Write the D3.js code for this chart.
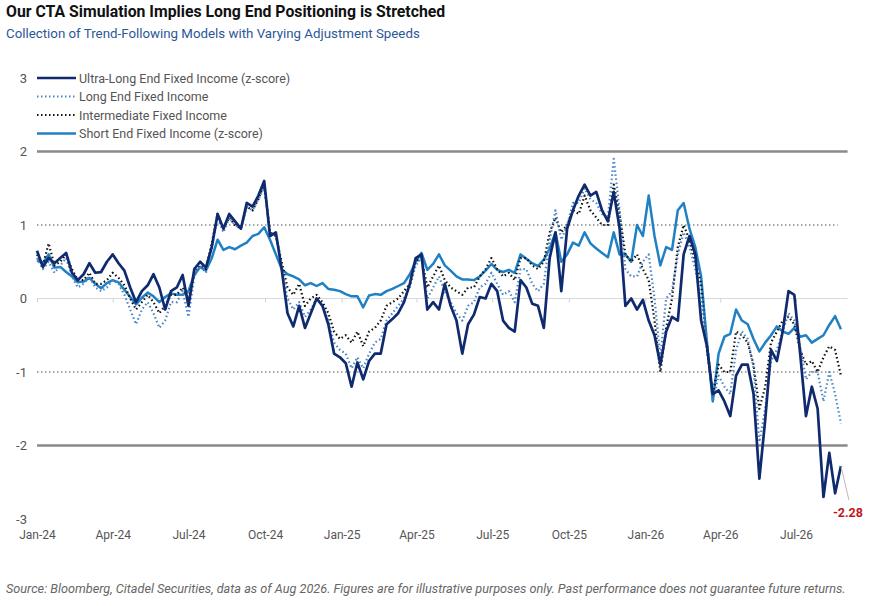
<!DOCTYPE html>
<html>
<head>
<meta charset="utf-8">
<script src="https://cdn.jsdelivr.net/npm/d3@7"></script>
<style>
  body { margin: 0; background: #fff; }
  svg { display: block; font-family: Roboto, "Noto Sans", sans-serif; }
</style>
</head>
<body>
<svg id="chart" width="883" height="606"></svg>
<script>
// weekly observations starting Mon 1 Jan 2024
const startDate = Date.UTC(2024, 0, 1)

const seriesNames = [
  'Ultra-Long End Fixed Income (z-score)',
  'Long End Fixed Income',
  'Intermediate Fixed Income',
  'Short End Fixed Income (z-score)'
]

const ultraLong = [
  0.65, 0.43, 0.55, 0.48, 0.55, 0.62, 0.35, 0.25, 0.33, 0.48,
  0.35, 0.36, 0.5, 0.6, 0.48, 0.38, 0.15, -0.05, 0.1, 0.18,
  0.33, 0.15, -0.15, 0.1, 0.15, 0.32, -0.1, 0.4, 0.5, 0.42,
  0.7, 1.15, 0.95, 1.15, 1.05, 0.95, 1.3, 1.25, 1.4, 1.6,
  0.85, 0.9, 0.4, -0.2, -0.38, -0.1, -0.4, -0.2, 0.0, -0.1,
  -0.35, -0.75, -0.8, -0.88, -1.2, -0.87, -1.1, -0.85, -0.75, -0.75,
  -0.35, -0.28, -0.2, -0.05, 0.2, 0.55, 0.6, -0.15, -0.05, -0.15,
  0.2, -0.1, -0.3, -0.75, -0.35, -0.22, 0.02, 0.0, 0.2, 0.1,
  -0.3, -0.4, -0.45, 0.25, 0.15, -0.07, -0.1, -0.4, 0.55, 0.9,
  0.1, 0.95, 1.2, 1.4, 1.55, 1.4, 1.45, 1.2, 1.05, 1.45,
  0.96, -0.1, 0.0, -0.15, -0.02, -0.3, -0.5, -0.9, -0.45, -0.25,
  -0.3, 0.6, 0.85, 0.6, -0.3, -0.65, -1.3, -1.25, -1.4, -1.6,
  -1.05, -0.9, -0.9, -1.3, -2.45, -1.65, -0.7, -0.85, -0.45, 0.1,
  0.05, -0.75, -1.6, -1.2, -1.5, -2.7, -2.1, -2.65, -2.28
]

const longEnd = [
  0.55, 0.4, 0.5, 0.35, 0.45, 0.55, 0.3, 0.15, 0.2, 0.3,
  0.15, 0.1, 0.15, 0.25, 0.2, 0.05, -0.15, -0.35, -0.15, -0.05,
  -0.2, -0.4, -0.3, -0.05, -0.05, 0.1, -0.25, 0.3, 0.45, 0.35,
  0.7, 1.1, 0.9, 1.1, 1.0, 0.95, 1.25, 1.2, 1.35, 1.5,
  0.9, 0.85, 0.45, 0.0, -0.15, -0.05, -0.25, -0.15, 0.0, -0.1,
  -0.3, -0.6, -0.7, -0.75, -0.95, -0.8, -0.95, -0.75, -0.6, -0.55,
  -0.3, -0.2, -0.1, 0.0, 0.15, 0.45, 0.55, 0.0, 0.15, 0.3,
  0.1, -0.05, -0.2, -0.3, -0.1, -0.05, 0.15, 0.2, 0.35, 0.2,
  0.05, 0.1, -0.05, 0.4, 0.4, 0.2, 0.1, 0.2, 0.8, 1.2,
  0.8, 1.0, 1.3, 1.3, 1.5, 1.35, 1.3, 1.15, 1.1, 1.9,
  1.2, 0.4, 0.3, 0.3, 0.5, 0.6, 0.0, -0.8, 0.0, 0.1,
  0.6, 0.9, 0.7, 0.4, 0.0, -0.55, -1.4, -1.05, -1.2, -1.3,
  -0.7, -0.45, -0.55, -0.95, -1.95, -1.5, -0.85, -0.7, -0.45, -0.2,
  -0.3, -0.65, -1.1, -1.0, -1.0, -1.4, -1.0, -1.3, -1.7
]

const intermediate = [
  0.6, 0.45, 0.75, 0.45, 0.5, 0.6, 0.4, 0.25, 0.25, 0.35,
  0.2, 0.2, 0.25, 0.35, 0.28, 0.18, 0.0, -0.15, -0.05, 0.05,
  -0.05, -0.2, -0.1, 0.05, 0.05, 0.15, 0.0, 0.35, 0.45, 0.4,
  0.75, 1.15, 0.95, 1.1, 1.0, 0.95, 1.25, 1.2, 1.35, 1.55,
  0.9, 0.85, 0.5, 0.15, 0.05, 0.2, -0.1, 0.0, 0.05, -0.05,
  -0.2, -0.45, -0.55, -0.5, -0.6, -0.45, -0.65, -0.45, -0.4, -0.3,
  -0.1, -0.05, 0.0, 0.1, 0.2, 0.5, 0.55, 0.15, 0.3, 0.45,
  0.25, 0.15, 0.1, 0.05, 0.15, 0.15, 0.3, 0.4, 0.55, 0.4,
  0.3, 0.35, 0.25, 0.55, 0.55, 0.45, 0.4, 0.5, 0.9, 1.1,
  0.9, 1.0, 1.2, 1.15, 1.4, 1.2, 1.1, 1.0, 1.0, 1.55,
  1.15, 0.6, 0.5, 0.6, 0.4, 0.25, -0.3, -1.0, -0.4, 0.0,
  0.7, 1.0, 0.8, 0.5, 0.2, -0.7, -1.3, -0.9, -1.0, -1.0,
  -0.45, -0.5, -0.6, -0.9, -1.5, -1.2, -0.6, -0.45, -0.3, -0.25,
  -0.35, -0.7, -0.9, -0.85, -1.0, -0.8, -0.65, -0.7, -1.05
]

const shortEnd = [
  0.52, 0.48, 0.6, 0.42, 0.43, 0.36, 0.3, 0.22, 0.23, 0.28,
  0.2, 0.14, 0.21, 0.25, 0.22, 0.12, 0.02, -0.08, 0.01, 0.08,
  0.03, -0.05, 0.02, 0.07, 0.05, 0.05, 0.1, 0.32, 0.43, 0.38,
  0.55, 0.8, 0.66, 0.7, 0.67, 0.72, 0.76, 0.85, 0.88, 0.97,
  0.8, 0.6, 0.4, 0.33, 0.3, 0.26, 0.18, 0.21, 0.17, 0.21,
  0.13, 0.12, 0.1, 0.06, 0.03, 0.03, -0.12, 0.04, 0.06, 0.05,
  0.1, 0.13, 0.17, 0.21, 0.33, 0.5, 0.62, 0.39, 0.47, 0.6,
  0.45, 0.38, 0.3, 0.26, 0.26, 0.25, 0.3, 0.38, 0.47, 0.39,
  0.36, 0.39, 0.35, 0.6, 0.54, 0.48, 0.44, 0.53, 0.68, 0.9,
  0.5, 0.6, 0.76, 0.72, 0.9, 0.75, 0.68, 0.62, 0.56, 0.9,
  0.6, 0.6, 0.5, 1.0, 0.85, 1.4, 0.85, 0.45, 0.7, 0.66,
  1.2, 1.3, 0.95, 0.7, 0.3, -0.6, -1.4, -0.75, -0.52, -0.48,
  -0.15, -0.3, -0.35, -0.55, -0.72, -0.6, -0.5, -0.38, -0.45, -0.48,
  -0.4, -0.52, -0.5, -0.6, -0.55, -0.5, -0.36, -0.24, -0.42
]

const yTicks = [-3, -2, -1, 0, 1, 2, 3]
const xTickDates = [
  '2024-01-01', '2024-04-01', '2024-07-01', '2024-10-01',
  '2025-01-01', '2025-04-01', '2025-07-01', '2025-10-01',
  '2026-01-01', '2026-04-01', '2026-07-01'
]

const svg = d3.select('#chart')

const x = d3.scaleUtc()
  .domain([new Date('2024-01-01'), new Date('2026-07-01')])
  .range([37, 796])
const y = d3.scaleLinear().domain([-3, 3]).range([519, 78])
const gridEnd = new Date(Date.UTC(2026, 8, 1))

const dateAt = i => new Date(startDate + i * 7 * 864e5)

// titles
svg.append('text').attr('x', 6).attr('y', 17)
  .attr('font-size', 15.8).attr('font-weight', 700).attr('fill', '#111')
  .text('Our CTA Simulation Implies Long End Positioning is Stretched')
svg.append('text').attr('x', 6).attr('y', 38)
  .attr('font-size', 13.3).attr('fill', '#2b5797')
  .text('Collection of Trend-Following Models with Varying Adjustment Speeds')

// gridlines
const grid = svg.append('g')
grid.append('line')
  .attr('x1', x(x.domain()[0])).attr('x2', x(gridEnd))
  .attr('y1', y(0)).attr('y2', y(0))
  .attr('stroke', '#d9d9d9').attr('stroke-width', 1.2)
;[2, -2].forEach(v => {
  grid.append('line')
    .attr('x1', x(x.domain()[0])).attr('x2', x(gridEnd))
    .attr('y1', y(v)).attr('y2', y(v))
    .attr('stroke', '#8a8a8a').attr('stroke-width', 2.5)
})
;[1, -1].forEach(v => {
  grid.append('line')
    .attr('x1', x(x.domain()[0])).attr('x2', x(gridEnd) - 10)
    .attr('y1', y(v)).attr('y2', y(v))
    .attr('stroke', '#8a8a8a').attr('stroke-width', 1.5)
    .attr('stroke-dasharray', '1.5,2.5')
})

// small ticks on the zero line
svg.append('g')
  .attr('transform', `translate(0,${y(0)})`)
  .call(d3.axisBottom(x).tickValues(xTickDates.map(d => new Date(d))).tickSize(4).tickFormat(''))
  .call(g => g.select('.domain').remove())
  .call(g => g.selectAll('line').attr('stroke', '#d0d0d0'))

// y axis labels
svg.append('g')
  .attr('transform', 'translate(27,0)')
  .call(d3.axisLeft(y).tickValues(yTicks).tickSize(0).tickPadding(0).tickFormat(d => String(d)))
  .call(g => g.select('.domain').remove())
  .call(g => g.selectAll('text').attr('font-size', 13).attr('fill', '#555').attr('font-family', 'Roboto, sans-serif'))

// x axis labels
svg.append('g')
  .attr('transform', 'translate(0,530)')
  .call(d3.axisBottom(x).tickValues(xTickDates.map(d => new Date(d)))
    .tickSize(0).tickPadding(0).tickFormat(d3.utcFormat('%b-%y')))
  .call(g => g.select('.domain').remove())
  .call(g => g.selectAll('text').attr('font-size', 12).attr('fill', '#555')
    .attr('font-family', '"Liberation Sans Narrow", Roboto, sans-serif'))

// series
const series = [
  { name: seriesNames[3], values: shortEnd, color: '#1f80c4', width: 2.5, dash: null },
  { name: seriesNames[2], values: intermediate, color: '#111111', width: 2.2, dash: '1.5,2.6' },
  { name: seriesNames[1], values: longEnd, color: '#4a86c6', width: 2.2, dash: '1.5,2.6' },
  { name: seriesNames[0], values: ultraLong, color: '#0f2a6e', width: 2.7, dash: null }
]

const line = d3.line()
  .x((d, i) => x(dateAt(i)))
  .y(d => y(d))

svg.append('g').selectAll('path')
  .data(series)
  .join('path')
  .attr('d', d => line(d.values))
  .attr('fill', 'none')
  .attr('stroke', d => d.color)
  .attr('stroke-width', d => d.width)
  .attr('stroke-dasharray', d => d.dash)
  .attr('stroke-linejoin', 'round')

// end label
const lastI = ultraLong.length - 1
const lastX = x(dateAt(lastI))
const lastY = y(ultraLong[lastI])
svg.append('line')
  .attr('x1', lastX).attr('y1', lastY)
  .attr('x2', lastX + 8).attr('y2', lastY + 34)
  .attr('stroke', '#bbb').attr('stroke-width', 1)
svg.append('text')
  .attr('x', lastX + 7).attr('y', lastY + 51)
  .attr('text-anchor', 'middle')
  .attr('font-size', 12.5).attr('font-weight', 700).attr('fill', '#c0161b')
  .attr('font-family', '"Liberation Sans Narrow", Roboto, sans-serif')
  .text(d3.format('.2f')(ultraLong[lastI]).replace('−', '-'))

// legend
const legendItems = [
  { name: seriesNames[0], color: '#0f2a6e', dash: null, width: 2.6 },
  { name: seriesNames[1], color: '#4a86c6', dash: '1.5,2.5', width: 2 },
  { name: seriesNames[2], color: '#111111', dash: '1.5,2.5', width: 2 },
  { name: seriesNames[3], color: '#1f80c4', dash: null, width: 2.4 }
]
const legend = svg.append('g').attr('transform', 'translate(37,78)')
legendItems.forEach((d, i) => {
  const g = legend.append('g').attr('transform', `translate(0,${i * 18.5})`)
  g.append('line').attr('x1', 0).attr('x2', 39).attr('y1', 0).attr('y2', 0)
    .attr('stroke', d.color).attr('stroke-width', d.width).attr('stroke-dasharray', d.dash)
  g.append('text').attr('x', 42).attr('y', 4.5)
    .attr('font-size', 12.5).attr('fill', '#555')
    .text(d.name)
})

// source
svg.append('text').attr('x', 6).attr('y', 593)
  .attr('font-size', 12.7).attr('font-style', 'italic').attr('fill', '#666')
  .text('Source: Bloomberg, Citadel Securities, data as of Aug 2026. Figures are for illustrative purposes only. Past performance does not guarantee future returns.')
</script>
</body>
</html>
